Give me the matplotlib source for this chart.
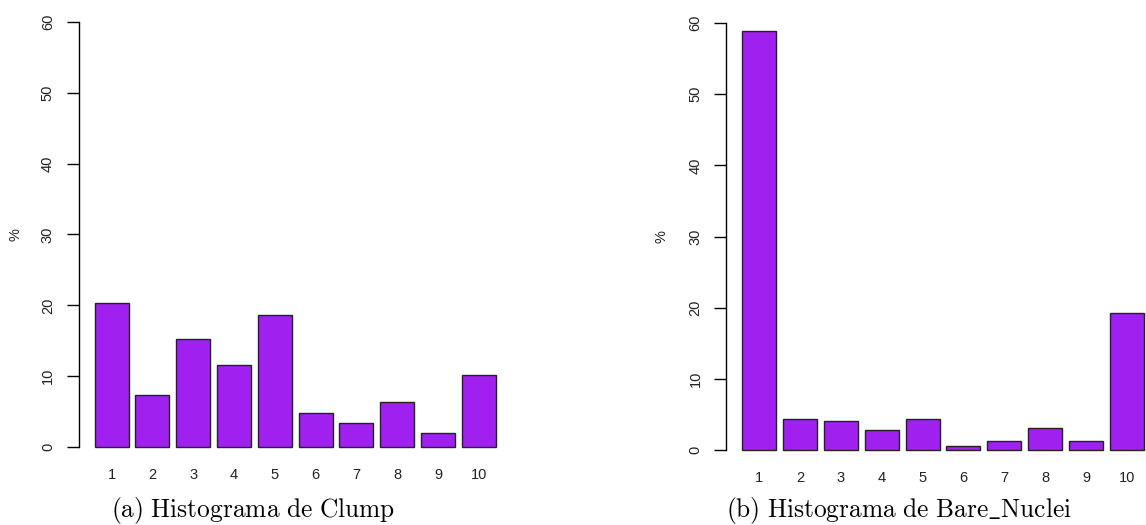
import matplotlib
matplotlib.use("Agg")
import matplotlib.pyplot as plt

plt.rcParams["mathtext.fontset"] = "cm"

categories = ["1", "2", "3", "4", "5", "6", "7", "8", "9", "10"]
clump_pct = [20.4, 7.3, 15.2, 11.6, 18.7, 4.8, 3.4, 6.4, 2.0, 10.1]
bare_nuclei_pct = [58.9, 4.4, 4.1, 2.8, 4.4, 0.6, 1.2, 3.1, 1.3, 19.3]
captions = [r"$\mathrm{(a)\ Histograma\ de\ Clump}$",
            r"$\mathrm{(b)\ Histograma\ de\ Bare\_Nuclei}$"]

W, H = 1146, 525
fig = plt.figure(figsize=(W / 100, H / 100), dpi=100)
sans = ["Liberation Sans", "DejaVu Sans"]


def r_barplot(rect, values, caption, cap_x, ylab_x):
    # rect in pixels: left, top, right, bottom
    l, t, r, b = rect
    ax = fig.add_axes([l / W, 1 - b / H, (r - l) / W, (b - t) / H])
    lefts = [0.2 + 1.2 * i for i in range(len(values))]
    centers = [x + 0.5 for x in lefts]
    ax.bar(centers, values, width=1.0, color="#A020F0", edgecolor="#222222", linewidth=1.0)
    ax.set_xlim(-0.272, 12.472)
    ax.set_ylim(-2.4, 62.4)
    for s in ["top", "right", "bottom"]:
        ax.spines[s].set_visible(False)
    ax.spines["left"].set_bounds(0, 60)
    ax.spines["left"].set_linewidth(1.0)
    ax.set_yticks([0, 10, 20, 30, 40, 50, 60])
    ax.set_yticklabels(["0", "10", "20", "30", "40", "50", "60"], rotation=90, va="center",
                       family=sans)
    ax.tick_params(axis="y", length=9, width=1.0, pad=8, labelsize=10.5, labelcolor="#222222")
    ax.set_xticks(centers)
    ax.set_xticklabels(categories, family=sans)
    ax.tick_params(axis="x", length=0, pad=3, labelsize=10.5, labelcolor="#222222")
    fig.text(ylab_x / W, 1 - (t + b) / 2 / H, "%", rotation=90, ha="center", va="center",
             fontsize=10.5, family=sans, color="#222222")
    fig.text(cap_x / W, 1 - 511 / H, caption, ha="center", va="center", fontsize=18.3)
    return ax


r_barplot((78.5, 5, 512, 464), clump_pct, captions[0], 253, 15)
r_barplot((726, 6, 1160, 467), bare_nuclei_pct, captions[1], 899, 662)

fig.savefig("out.png", dpi=100)
